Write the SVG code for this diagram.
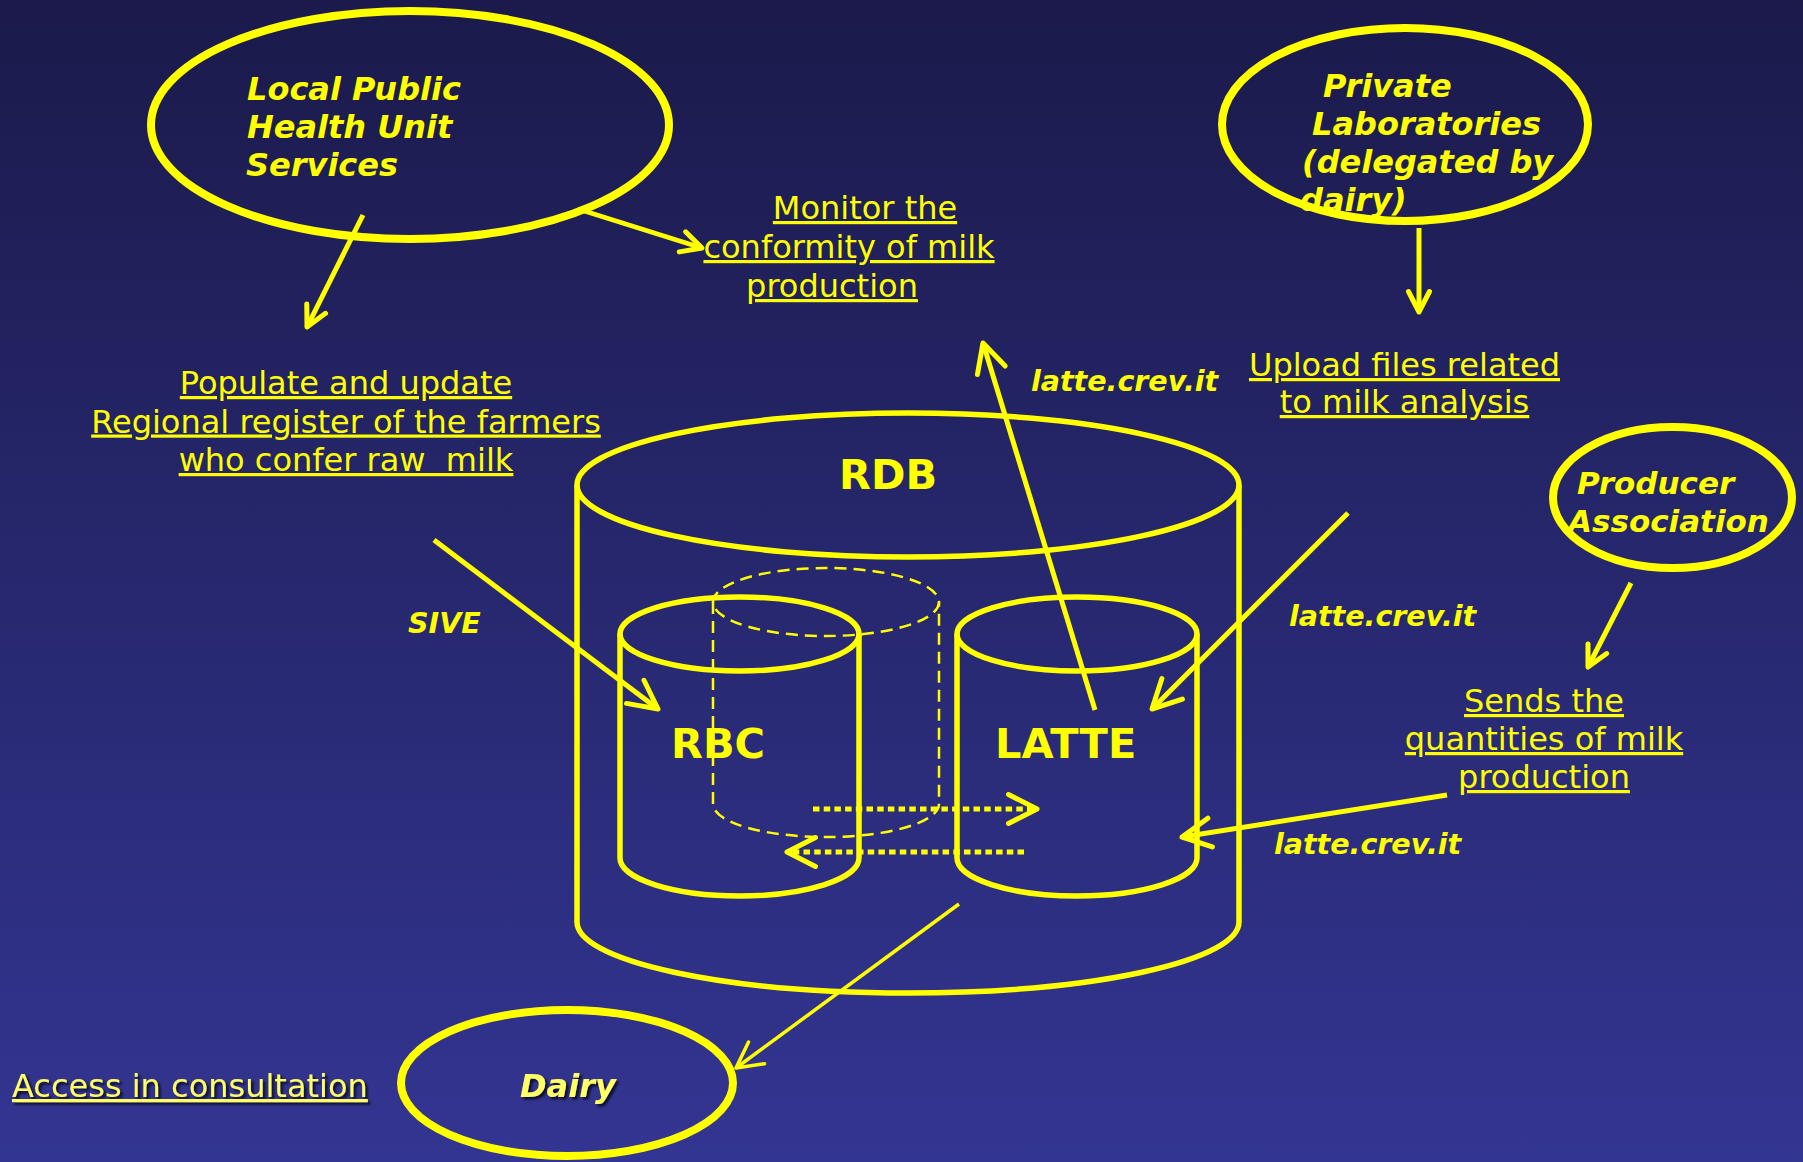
<svg xmlns="http://www.w3.org/2000/svg" width="1803" height="1162" viewBox="0 0 1803 1162">
<defs>
<linearGradient id="bg" x1="0" y1="0" x2="0" y2="1">
<stop offset="0" stop-color="#1b1a4b"/>
<stop offset="1" stop-color="#333592"/>
</linearGradient>
<filter id="sh" x="-20%" y="-20%" width="140%" height="160%">
<feDropShadow dx="2.5" dy="2.5" stdDeviation="1" flood-color="#000010" flood-opacity="0.75"/>
</filter>
<marker id="aS" markerUnits="userSpaceOnUse" markerWidth="80" markerHeight="80" viewBox="-40 -40 80 80" refX="0" refY="0" orient="auto" overflow="visible">
<path d="M-20.5,-10.5 L0,0 L-20.5,10.5" class="ah" stroke-width="5"/>
</marker>
<marker id="aL" markerUnits="userSpaceOnUse" markerWidth="80" markerHeight="80" viewBox="-40 -40 80 80" refX="0" refY="0" orient="auto" overflow="visible">
<path d="M-28.5,-14.5 L0,0 L-28.5,14.5" class="ah" stroke-width="5"/>
</marker>
<marker id="aT" markerUnits="userSpaceOnUse" markerWidth="80" markerHeight="80" viewBox="-40 -40 80 80" refX="0" refY="0" orient="auto" overflow="visible">
<path d="M-25.5,-13.5 L0,0 L-25.5,13.5" class="ah" stroke-width="3.5"/>
</marker>
</defs>
<style>
.ah{fill:none;stroke:#ffff00;stroke-linecap:round;stroke-linejoin:round;stroke-dasharray:none}
.ell{fill:none;stroke:#ffff00;stroke-width:8}
.cyl{fill:none;stroke:#ffff00;stroke-width:5.5}
.dash{fill:none;stroke:#ffff00;stroke-width:2.5;stroke-dasharray:12 7}
.con{fill:none;stroke:#ffff00;stroke-width:5;stroke-linecap:butt}
.dot{fill:none;stroke:#ffff00;stroke-width:5;stroke-dasharray:6.5 4.2}
.thin{fill:none;stroke:#ffff00;stroke-width:3.5}
.nt{font-family:"DejaVu Sans",Verdana,sans-serif;font-weight:bold;font-style:italic;font-size:32px;fill:#ffff00}
.db{font-family:"DejaVu Sans",Verdana,sans-serif;font-weight:bold;font-size:41.5px;fill:#ffff00}
.ul{font-family:"DejaVu Sans",Verdana,sans-serif;font-size:32px;fill:#ffff00;text-anchor:middle;text-decoration:underline;text-decoration-thickness:2.5px;white-space:pre}
.lbl{font-family:"DejaVu Sans",Verdana,sans-serif;font-weight:bold;font-style:italic;font-size:28.5px;fill:#ffff00}
</style>
<rect x="0" y="0" width="1803" height="1162" fill="url(#bg)"/>

<g id="node-local-public">
<ellipse class="ell" cx="410" cy="125" rx="259" ry="114"/>
<text class="nt"><tspan x="247" y="100">Local Public</tspan><tspan x="247" y="138">Health Unit</tspan><tspan x="246" y="176">Services</tspan></text>
</g>

<g id="node-private-labs">
<ellipse class="ell" cx="1405" cy="124.5" rx="183" ry="96.5"/>
<text class="nt"><tspan x="1323" y="97">Private</tspan><tspan x="1312" y="135">Laboratories</tspan><tspan x="1302" y="173">(delegated by</tspan><tspan x="1300" y="211">dairy)</tspan></text>
</g>

<g id="node-producer">
<ellipse class="ell" cx="1672.5" cy="497.5" rx="119.5" ry="70.5"/>
<text class="nt" style="font-size:31px"><tspan x="1577" y="494">Producer</tspan><tspan x="1568" y="532">Association</tspan></text>
</g>

<g id="node-dairy">
<ellipse class="ell" cx="567" cy="1083" rx="166" ry="73"/>
<text class="nt" x="520" y="1097" style="fill:#ffff66" filter="url(#sh)">Dairy</text>
</g>

<g id="node-rdb">
<ellipse class="cyl" cx="908" cy="485" rx="331" ry="72"/>
<path class="cyl" d="M577,485 L577,922 A331,71 0 0 0 1239,922 L1239,485"/>
<text class="db" x="839" y="489">RDB</text>
</g>

<g id="node-rbc">
<ellipse class="cyl" cx="739.5" cy="634" rx="119.5" ry="37"/>
<path class="cyl" d="M620,634 L620,858 A119.5,38 0 0 0 859,858 L859,634"/>
<text class="db" x="671" y="758">RBC</text>
</g>

<g id="node-shared">
<ellipse class="dash" cx="826" cy="602" rx="113" ry="34"/>
<path class="dash" d="M713,602 L713,804 A113,33 0 0 0 939,804 L939,602"/>
</g>

<g id="node-latte">
<ellipse class="cyl" cx="1077" cy="634" rx="120" ry="37"/>
<path class="cyl" d="M957,634 L957,858 A120,38 0 0 0 1197,858 L1197,634"/>
<text class="db" x="995" y="758">LATTE</text>
</g>

<g id="label-monitor">
<text class="ul"><tspan x="865" y="219">Monitor the</tspan><tspan x="849" y="258">conformity of milk</tspan><tspan x="832" y="297">production</tspan></text>
</g>

<g id="label-populate">
<text class="ul"><tspan x="346" y="394">Populate and update</tspan><tspan x="346" y="432.5">Regional register of the farmers</tspan><tspan x="346" y="471">who confer raw  milk</tspan></text>
</g>

<g id="label-upload">
<text class="ul"><tspan x="1404.5" y="376">Upload files related</tspan><tspan x="1404.5" y="413">to milk analysis</tspan></text>
</g>

<g id="label-sends">
<text class="ul"><tspan x="1544" y="712">Sends the</tspan><tspan x="1544" y="750">quantities of milk</tspan><tspan x="1544" y="788">production</tspan></text>
</g>

<g id="label-access">
<text class="ul" x="12" y="1097" style="text-anchor:start;fill:#ffff66" filter="url(#sh)">Access in consultation</text>
</g>

<g id="connectors">
<path class="con" d="M363,215 L307,327" marker-end="url(#aS)"/>
<path class="con" d="M578,209 L702,248" marker-end="url(#aS)" style="stroke-width:4.5"/>
<path class="con" d="M1419,228 L1419,312" marker-end="url(#aS)"/>
<path class="con" d="M1631,583 L1588,667" marker-end="url(#aS)"/>
<path class="con" d="M434,540 L658,709" marker-end="url(#aL)"/>
<path class="con" d="M1095,710 L983,343" marker-end="url(#aL)"/>
<path class="con" d="M1348,513 L1152,709" marker-end="url(#aL)"/>
<path class="con" d="M1447,795 L1182,837" marker-end="url(#aL)"/>
<path class="dot" d="M813,809 L1037,809" marker-end="url(#aL)"/>
<path class="dot" d="M1024,852 L787,852" marker-end="url(#aL)"/>
<path class="thin" d="M959,904 L736,1068" marker-end="url(#aT)"/>
<text class="lbl" x="408" y="633">SIVE</text>
<text class="lbl" x="1031" y="391">latte.crev.it</text>
<text class="lbl" x="1289" y="626">latte.crev.it</text>
<text class="lbl" x="1274" y="854">latte.crev.it</text>
</g>
</svg>
